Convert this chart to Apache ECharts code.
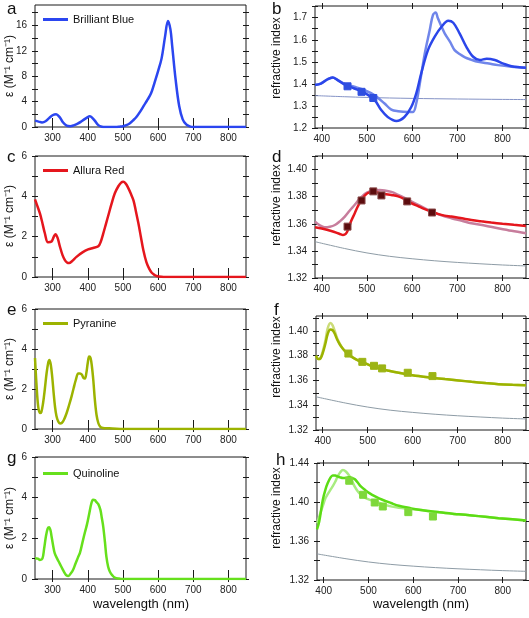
<!DOCTYPE html>
<html><head><meta charset="utf-8">
<script src="https://cdn.jsdelivr.net/npm/echarts@6/dist/echarts.min.js"></script>
<style>html,body{margin:0;padding:0;background:#fff}#c{width:529px;height:618px}</style>
</head><body><div id="c"></div>
<script>
// ---------- tick / label arrays ----------
const absXTicks = [300,400,500,600,700,800];
const absXLabels = [300,400,500,600,700,800];
const riXTicks = [400,500,600,700,800];
const riXLabels = [400,500,600,700,800];
const aYTicks = [0,2,4,6,8,10,12,14,16,18];
const aYLabels = [0,4,8,12,16];
const abs6YTicks = [0,1,2,3,4,5,6];
const abs6YLabels = [0,2,4,6];
const bYTicks = [1.2,1.25,1.3,1.35,1.4,1.45,1.5,1.55,1.6,1.65,1.7,1.75];
const bYLabels = [1.2,1.3,1.4,1.5,1.6,1.7];
const dfYTicks = [1.32,1.33,1.34,1.35,1.36,1.37,1.38,1.39,1.40,1.41];
const dfYLabels = [1.32,1.34,1.36,1.38,1.40];
const hYTicks = [1.32,1.34,1.36,1.38,1.40,1.42,1.44];
const hYLabels = [1.32,1.36,1.40,1.44];

// ---------- absorption spectra ----------
const bbWl = [250,260,270,280,290,300,310,320,330,340,350,360,370,380,390,400,405,410,420,430,440,450,480,490,500,510,520,530,540,550,560,570,580,590,600,610,620,628,635,640,650,660,670,680,690,700,850];
const bbEps = [1.0,0.85,0.72,0.9,1.4,1.85,2.0,1.55,0.7,0.2,0.12,0.25,0.5,0.8,1.2,1.55,1.7,1.6,1.0,0.3,0.05,0,0,0.05,0.12,0.3,0.6,1.1,1.7,2.5,3.4,4.3,5.3,7.0,8.8,10.8,14.3,16.7,15.4,12.8,7.4,3.3,1.2,0.4,0.1,0,0];

const arWl = [250,255,264,270,278,287,297,303,308,314,321,328,335,341,347,355,368,385,401,415,430,437,444,452,460,468,477,487,495,501,508,515,522,530,537,544,551,558,567,575,582,590,596,610,620,850];
const arEps = [3.85,3.6,3.15,2.75,2.17,1.72,1.76,1.98,2.12,1.95,1.5,1.1,0.84,0.72,0.69,0.78,1.0,1.22,1.37,1.44,1.52,1.75,2.15,2.65,3.15,3.65,4.15,4.5,4.68,4.72,4.63,4.42,4.15,3.8,3.25,2.66,2.0,1.34,0.72,0.4,0.21,0.1,0.05,0.01,0,0];

const pyWl = [250,254,259,264,268,273,278,283,288,291,295,299,303,307,311,316,321,326,332,340,347,354,360,366,373,378,383,388,392,396,400,404,408,412,416,420,425,430,435,440,450,470,500,850];
const pyEps = [3.55,2.3,1.13,0.8,0.85,1.3,2.0,2.8,3.35,3.45,3.2,2.6,1.8,1.1,0.65,0.38,0.28,0.3,0.45,0.8,1.2,1.63,2.05,2.45,2.78,2.78,2.72,2.55,2.52,2.8,3.3,3.62,3.55,3.1,2.4,1.5,0.7,0.3,0.12,0.06,0.04,0.03,0,0];

const qWl = [250,258,264,271,276,281,286,290,294,297,302,306,313,320,328,335,340,345,352,358,365,372,378,385,392,398,404,410,415,420,425,430,436,440,444,449,453,458,463,470,477,490,500,850];
const qEps = [1.02,1.0,0.94,1.0,1.5,2.09,2.48,2.55,2.4,2.1,1.6,1.27,1.0,0.77,0.5,0.28,0.17,0.15,0.28,0.44,0.75,1.05,1.3,1.8,2.3,2.7,3.2,3.7,3.9,3.88,3.78,3.68,3.4,3.0,2.58,1.8,1.1,0.6,0.36,0.18,0.07,0.02,0,0];

// ---------- refractive index ----------
const waterWl = [385,450,500,550,600,650,700,750,800,852];
const waterN = [1.3468,1.3418,1.3385,1.3360,1.3342,1.3327,1.3315,1.3305,1.3296,1.3289];

const sqWl = [457,488,514,532,589,644];
const bSqWl = [457,488,514];
const bSqN = [1.389,1.364,1.336];

const bWl = [385,398,413,424,435,450,472,495,517,532,546,565,583,598,609,620,635,650,665,680,691,705,720,735,750,765,783,802,820,852];
const bDark = [1.395,1.401,1.421,1.429,1.417,1.398,1.379,1.359,1.326,1.28,1.25,1.232,1.25,1.295,1.356,1.447,1.553,1.614,1.659,1.686,1.677,1.629,1.568,1.523,1.508,1.514,1.508,1.492,1.48,1.473];
const bLightWl = [385,398,413,424,435,450,472,495,517,539,554,569,591,602,609,617,628,639,646,652,657,665,672,684,694,705,717,730,746,770,790,820,852];
const bLight = [1.395,1.401,1.421,1.429,1.418,1.400,1.387,1.371,1.348,1.311,1.283,1.276,1.273,1.273,1.311,1.402,1.538,1.644,1.712,1.723,1.697,1.66,1.629,1.59,1.553,1.535,1.52,1.51,1.5,1.492,1.485,1.478,1.473];

const dRedWl = [385,400,421,440,447,453,458,465,473,480,488,495,502,509,517,528,539,554,569,583,598,613,628,643,657,672,687,710,731,753,775,800,825,852];
const dRed = [1.3574,1.3565,1.3547,1.3525,1.3517,1.3525,1.3554,1.362,1.3678,1.373,1.3777,1.3808,1.3827,1.3833,1.3832,1.3828,1.382,1.3812,1.3802,1.3782,1.3752,1.373,1.3708,1.369,1.3673,1.366,1.3653,1.364,1.3628,1.3618,1.3609,1.36,1.3592,1.3584];
const dPinkWl = [385,395,406,418,429,440,451,462,473,484,495,506,517,528,539,554,569,583,598,620,643,665,687,710,731,760,790,820,852];
const dPink = [1.3616,1.359,1.3574,1.3578,1.3591,1.3618,1.3653,1.3698,1.374,1.3785,1.382,1.3838,1.3846,1.3849,1.3846,1.3835,1.3814,1.3792,1.3765,1.3728,1.369,1.3662,1.3641,1.3622,1.3604,1.3587,1.3567,1.3548,1.353];
const dSqN = [1.3579,1.3772,1.3839,1.3809,1.3765,1.3683];

const fWl = [385,390,395,400,406,411,417,422,427,432,438,444,451,462,473,484,495,510,525,547,569,591,613,643,672,702,731,761,791,822,852];
const fDark = [1.380,1.3772,1.3778,1.382,1.3898,1.3975,1.4011,1.4005,1.3975,1.393,1.389,1.386,1.3831,1.3798,1.3772,1.3752,1.3737,1.3715,1.3697,1.3678,1.3662,1.3648,1.3635,1.3622,1.3611,1.36,1.3589,1.3579,1.357,1.3565,1.3562];
const fLight = [1.380,1.3772,1.378,1.3835,1.3925,1.402,1.4064,1.4045,1.3995,1.394,1.3895,1.386,1.3831,1.3798,1.3772,1.3752,1.3737,1.3715,1.3697,1.3678,1.3662,1.3648,1.3635,1.3622,1.3611,1.36,1.3589,1.3579,1.357,1.3565,1.3562];
const fSqN = [1.3817,1.375,1.3718,1.3697,1.3662,1.3635];

const hWl = [385,390,398,404,409,415,420,426,431,437,443,450,457,463,469,476,483,492,502,516,531,550,568,590,613,643,672,702,731,761,791,822,852];
const hDark = [1.372,1.38,1.4023,1.413,1.4194,1.425,1.4273,1.4272,1.4263,1.4252,1.4246,1.4248,1.4253,1.4248,1.4235,1.42,1.416,1.4125,1.4091,1.4055,1.4023,1.399,1.3961,1.394,1.392,1.3903,1.3886,1.3874,1.3862,1.3848,1.3834,1.3822,1.381];
const hLight = [1.378,1.3851,1.396,1.404,1.408,1.4125,1.416,1.421,1.4262,1.4305,1.4328,1.431,1.427,1.422,1.416,1.411,1.4075,1.4045,1.4025,1.4005,1.3978,1.3955,1.394,1.393,1.392,1.3903,1.3886,1.3874,1.3862,1.3848,1.3834,1.3822,1.381];
const hSqN = [1.4218,1.4074,1.3995,1.3954,1.3896,1.3851];

// ---------- build ----------
const FONT = 'Liberation Sans, Arial, sans-serif';
const pairs = (xs, ys) => xs.map((x, i) => [x, ys[i]]);

const panels = [
  {grid:{left:35,top:5,width:211,height:122}, xmin:250,xmax:850,xT:absXTicks,xL:absXLabels, ymin:0,ymax:19.2,yT:aYTicks,yL:aYLabels,dec:0},
  {grid:{left:315,top:6,width:211,height:122}, xmin:385,xmax:852,xT:riXTicks,xL:riXLabels, ymin:1.2,ymax:1.753,yT:bYTicks,yL:bYLabels,dec:1},
  {grid:{left:35,top:156,width:211,height:121}, xmin:250,xmax:850,xT:absXTicks,xL:absXLabels, ymin:0,ymax:6,yT:abs6YTicks,yL:abs6YLabels,dec:0},
  {grid:{left:315,top:156,width:211,height:122}, xmin:385,xmax:852,xT:riXTicks,xL:riXLabels, ymin:1.32,ymax:1.41,yT:dfYTicks,yL:dfYLabels,dec:2},
  {grid:{left:35,top:309,width:211,height:120}, xmin:250,xmax:850,xT:absXTicks,xL:absXLabels, ymin:0,ymax:6,yT:abs6YTicks,yL:abs6YLabels,dec:0},
  {grid:{left:316,top:316,width:210,height:114}, xmin:385,xmax:852,xT:riXTicks,xL:riXLabels, ymin:1.32,ymax:1.412,yT:dfYTicks,yL:dfYLabels,dec:2},
  {grid:{left:35,top:457,width:211,height:122}, xmin:250,xmax:850,xT:absXTicks,xL:absXLabels, ymin:0,ymax:6,yT:abs6YTicks,yL:abs6YLabels,dec:0},
  {grid:{left:317,top:463,width:209,height:117}, xmin:385,xmax:852,xT:riXTicks,xL:riXLabels, ymin:1.32,ymax:1.44,yT:hYTicks,yL:hYLabels,dec:2}
];

const grids = [], xAxes = [], yAxes = [];
const AX = '#1a1a1a';
panels.forEach((p, gi) => {
  grids.push(Object.assign({show:true, borderColor:AX, borderWidth:1, backgroundColor:'transparent'}, p.grid));
  const bx = {type:'value', gridIndex:gi, min:p.xmin, max:p.xmax, offset:-3,
    axisLine:{show:false}, splitLine:{show:false}};
  xAxes.push(Object.assign({}, bx, {position:'bottom',
    axisTick:{show:true, inside:false, length:6, customValues:p.xT, lineStyle:{color:AX,width:1}},
    axisLabel:{show:true, customValues:p.xL, margin:9, fontSize:10, fontFamily:FONT, color:'#222'}}));
  xAxes.push(Object.assign({}, bx, {position:'top',
    axisTick:{show:true, inside:false, length:6, customValues:p.xT, lineStyle:{color:AX,width:1}},
    axisLabel:{show:false}}));
  const by = {type:'value', gridIndex:gi, min:p.ymin, max:p.ymax, offset:-3,
    axisLine:{show:false}, splitLine:{show:false}};
  yAxes.push(Object.assign({}, by, {position:'left',
    axisTick:{show:true, inside:false, length:6, customValues:p.yT, lineStyle:{color:AX,width:1}},
    axisLabel:{show:true, customValues:p.yL, margin:11, fontSize:10, fontFamily:FONT, color:'#222',
      formatter:v => Number(v).toFixed(p.dec)}}));
  yAxes.push(Object.assign({}, by, {position:'right',
    axisTick:{show:true, inside:false, length:6, customValues:p.yT, lineStyle:{color:AX,width:1}},
    axisLabel:{show:false}}));
});

function line(gi, name, xs, ys, color, width, z) {
  return {type:'line', name, xAxisIndex:2*gi, yAxisIndex:2*gi, data:pairs(xs, ys),
    showSymbol:false, symbol:'none', smooth:0.35, clip:true, z:z||2,
    lineStyle:{color, width}, itemStyle:{color}, silent:true};
}
function squares(gi, name, xs, ys, color, border) {
  return {type:'scatter', name, xAxisIndex:2*gi, yAxisIndex:2*gi, data:pairs(xs, ys),
    symbol:'rect', symbolSize:7, z:5, itemStyle:{color, borderColor:border||color, borderWidth:1, opacity:1}, silent:true};
}
const GRAY = '#8e9ca6';
const series = [
  line(0, 'Brilliant Blue', bbWl, bbEps, '#2b46f0', 2.5),
  line(1, 'BB water', waterWl, waterN, '#8593c6', 1, 1),
  line(1, 'BB light', bLightWl, bLight, '#7086ea', 2.5),
  line(1, 'BB dark', bWl, bDark, '#2b46ea', 2.5, 3),
  squares(1, 'BB data', bSqWl, bSqN, '#2f4fe0'),
  line(2, 'Allura Red', arWl, arEps, '#e5161d', 2.5),
  line(3, 'AR water', waterWl, waterN, GRAY, 1, 1),
  line(3, 'AR pink', dPinkWl, dPink, '#c77d9c', 2.5),
  line(3, 'AR red', dRedWl, dRed, '#e5161d', 2.5, 3),
  squares(3, 'AR data', sqWl, dSqN, '#5c0c0e', '#8a4a4a'),
  line(4, 'Pyranine', pyWl, pyEps, '#9cb300', 2.5),
  line(5, 'PY water', waterWl, waterN, GRAY, 1, 1),
  line(5, 'PY light', fWl, fLight, '#cbdc78', 2.5),
  line(5, 'PY dark', fWl, fDark, '#9cb300', 2.5, 3),
  squares(5, 'PY data', sqWl, fSqN, '#9cb414'),
  line(6, 'Quinoline', qWl, qEps, '#66e01c', 2.5),
  line(7, 'QU water', waterWl, waterN, GRAY, 1, 1),
  line(7, 'QU light', hWl, hLight, '#a8ec80', 2.5),
  line(7, 'QU dark', hWl, hDark, '#5cdc14', 2.5, 3),
  squares(7, 'QU data', sqWl, hSqN, '#7ed83a')
];

const legendBase = {orient:'horizontal', icon:'rect', itemWidth:25, itemHeight:3, itemGap:5, padding:0,
  selectedMode:false, textStyle:{fontSize:11, fontFamily:FONT, color:'#111'}};
const legends = [
  Object.assign({}, legendBase, {data:['Brilliant Blue'], left:43, top:14}),
  Object.assign({}, legendBase, {data:['Allura Red'], left:43, top:165}),
  Object.assign({}, legendBase, {data:['Pyranine'], left:43, top:318}),
  Object.assign({}, legendBase, {data:['Quinoline'], left:43, top:468})
];

function txt(x, y, text, size, opts) {
  return Object.assign({type:'text', x, y, silent:true,
    style:{text, fontSize:size, fontFamily:FONT, fill:'#111', align:'left', verticalAlign:'top'}}, opts || {});
}
function vtxt(x, y, text) {
  return {type:'text', x, y, rotation:Math.PI/2, silent:true,
    style:{text, fontSize:12, fontFamily:FONT, fill:'#111', align:'center', verticalAlign:'middle'}};
}
function htxt(x, y, text) {
  return {type:'text', x, y, silent:true,
    style:{text, fontSize:13, fontFamily:FONT, fill:'#111', align:'center', verticalAlign:'middle'}};
}
const EPS = 'ε (M⁻¹ cm⁻¹)';
const RI = 'refractive index';
const graphics = [
  txt(7, 1, 'a', 17), txt(272, 1, 'b', 17), txt(7, 149, 'c', 17), txt(272, 149, 'd', 17),
  txt(7, 302, 'e', 17), txt(274, 302, 'f', 17), txt(7, 450, 'g', 17), txt(276, 452, 'h', 17),
  vtxt(10, 66, EPS), vtxt(10, 216, EPS), vtxt(10, 369, EPS), vtxt(10, 518, EPS),
  vtxt(277, 58, RI), vtxt(277, 205, RI), vtxt(277, 357, RI), vtxt(277, 508, RI),
  htxt(141, 604, 'wavelength (nm)'), htxt(421, 604, 'wavelength (nm)')
];

const chart = echarts.init(document.getElementById('c'), null, {renderer:'canvas'});
chart.setOption({
  animation:false,
  backgroundColor:'#ffffff',
  grid:grids, xAxis:xAxes, yAxis:yAxes, series, legend:legends, graphic:graphics
});
</script></body></html>
